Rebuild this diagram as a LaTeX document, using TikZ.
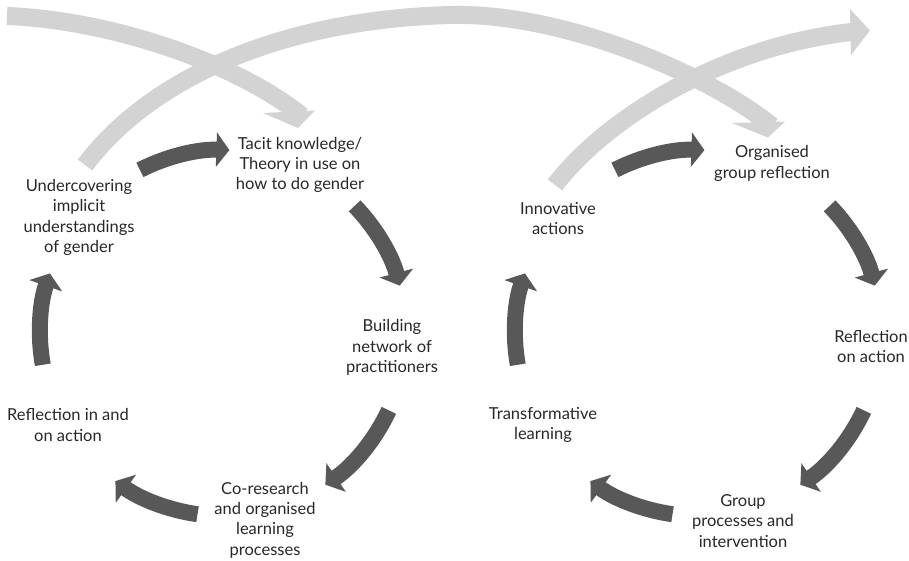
\documentclass[tikz,border=0pt]{standalone}
\usepackage{fontspec}
\setmainfont{Lato}
\usetikzlibrary{arrows.meta}
\definecolor{bandgray}{RGB}{211,211,211}
\definecolor{cyclegray}{RGB}{88,88,88}
\definecolor{inkgray}{RGB}{40,40,40}
\begin{document}
\begin{tikzpicture}[x=1bp,y=1bp,
  lbl/.style={align=center, inner sep=0pt, text=inkgray,
    font=\fontsize{16.5bp}{20.3bp}\selectfont},
  band/.style={draw=bandgray, line width=18bp},
  bandhead/.style={fill=bandgray},
  cyclearrow/.style={draw=cyclegray, line width=16bp,
    -{Triangle[length=13bp,width=34bp]}}]
\path[use as bounding box, fill=white] (0,0) rectangle (909,-561);

% wide light bands linking the two cycles
\coordinate (a0) at (7,-16);
\coordinate (a1) at (302,-116);
\draw[band] (a0) .. controls (110,-20) and (235,-62) .. (a1);
\fill[bandhead] (263,-113) -- (315,-110.5) -- (298,-128) -- cycle;

\coordinate (b0) at (85,-165);
\coordinate (bt) at (450,-15);
\coordinate (b1) at (772,-126);
\draw[band] (b0) .. controls (145,-85) and (270,-20) .. (bt)
            .. controls (560,-12) and (705,-72) .. (b1);
\fill[bandhead] (732,-123) -- (785,-121.5) -- (768,-137.5) -- cycle;

\coordinate (c0) at (555,-185);
\coordinate (c1) at (856,-31.5);
\draw[band] (c0) .. controls (600,-125) and (715,-46) .. (c1);
\fill[bandhead] (850,-9) -- (870,-30.5) -- (851,-55) -- cycle;

% centres of the two cycles
\coordinate (lc) at (223,-333);
\coordinate (rc) at (698,-333);

% left cycle
\draw[cyclearrow] ([shift={(117:183)}]lc) arc[start angle=117, end angle=88, radius=183];
\draw[cyclearrow] ([shift={(44:183)}]lc) arc[start angle=44, end angle=15, radius=183];
\draw[cyclearrow] ([shift={(-25:183)}]lc) arc[start angle=-25, end angle=-56, radius=183];
\draw[cyclearrow] ([shift={(-98:183)}]lc) arc[start angle=-98, end angle=-126, radius=183];
\draw[cyclearrow] ([shift={(190:183)}]lc) arc[start angle=190, end angle=161, radius=183];

% right cycle
\draw[cyclearrow] ([shift={(117:183)}]rc) arc[start angle=117, end angle=88, radius=183];
\draw[cyclearrow] ([shift={(44:183)}]rc) arc[start angle=44, end angle=15, radius=183];
\draw[cyclearrow] ([shift={(-25:183)}]rc) arc[start angle=-25, end angle=-56, radius=183];
\draw[cyclearrow] ([shift={(-98:183)}]rc) arc[start angle=-98, end angle=-126, radius=183];
\draw[cyclearrow] ([shift={(190:183)}]rc) arc[start angle=190, end angle=161, radius=183];

% labels of the left cycle
\node[lbl] (tacit) at (300,-165) {Tacit knowledge/\\Theory in use on\\how to do gender};
\node[lbl] (network) at (392,-347.5) {Building\\network of\\practitioners};
\node[lbl] (coresearch) at (265,-520) {Co-research\\and organised\\learning\\processes};
\node[lbl] (reflinon) at (68,-425) {Reflection in and\\on action};
\node[lbl] (undercover) at (79,-217.5) {Undercovering\\implicit\\understandings\\of gender};

% labels of the right cycle
\node[lbl] (organised) at (772,-163.5) {Organised\\group reflection};
\node[lbl] (reflon) at (871,-346.5) {Reflection\\on action};
\node[lbl] (group) at (743,-521) {Group\\processes and\\intervention};
\node[lbl] (transform) at (543,-425) {Transformative\\learning};
\node[lbl] (innovative) at (558,-218.5) {Innovative\\actions};
\end{tikzpicture}
\end{document}
